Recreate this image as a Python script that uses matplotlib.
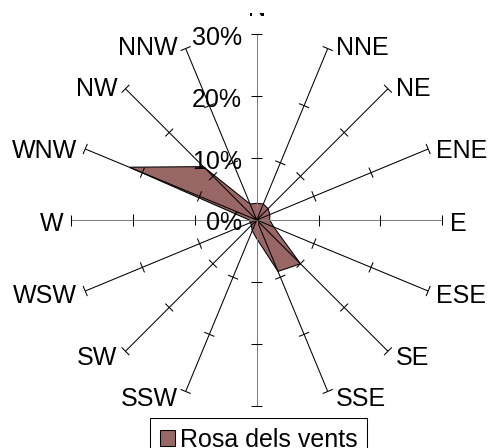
import numpy as np
import matplotlib
matplotlib.use("Agg")
import matplotlib.pyplot as plt
from matplotlib.patches import Patch
from matplotlib.transforms import Bbox, TransformedBbox

# Wind frequency (%) per compass direction, clockwise from north
directions = ["N", "NNE", "NE", "ENE", "E", "ESE", "SE", "SSE",
              "S", "SSW", "SW", "WSW", "W", "WNW", "NW", "NNW"]
freq = [2.7, 2.8, 2.6, 2.3, 2.1, 3.0, 10.0, 9.0,
        3.0, 1.9, 1.2, 1.1, 1.2, 22.3, 12.2, 2.8]
ring_values = [0, 10, 20, 30]
ring_labels = ["0%", "10%", "20%", "30%"]
series_name = "Rosa dels vents"

plt.rcParams["font.family"] = ["Liberation Sans", "DejaVu Sans"]

DPI = 100
W, H = 488, 448
fig = plt.figure(figsize=(W / DPI, H / DPI), dpi=DPI)
fig.patch.set_facecolor("white")

FILL = "#996666"
FS = 18
PT = 72.0 / DPI          # pixels -> points

cx, cy, R = 256.7, 220.0, 185.6
ax = fig.add_axes([(cx - R) / W, (H - cy - R) / H, 2 * R / W, 2 * R / H],
                  projection="polar")
ax.set_theta_zero_location("N")
ax.set_theta_direction(-1)
rmax = ring_values[-1]
ax.set_ylim(0, rmax)
ax.axis("off")

theta = np.linspace(0, 2 * np.pi, len(directions), endpoint=False)

# filled series
ax.fill(np.append(theta, theta[0]), list(freq) + [freq[0]],
        facecolor=FILL, edgecolor="black", linewidth=0.75, zorder=1,
        clip_on=False)

# spokes with crossing tick marks
half = 5.5 / (R / rmax)
for i, t in enumerate(theta):
    col = "#808080" if i % 4 == 0 else "black"
    ax.plot([t, t], [0, rmax], color=col, linewidth=0.75, zorder=2,
            clip_on=False, solid_capstyle="butt")
    for r in ring_values[1:]:
        da = np.arctan2(half, r)
        rr = np.hypot(r, half)
        ax.plot([t - da, t + da], [rr, rr], color="black", linewidth=0.75,
                zorder=2, clip_on=False, solid_capstyle="butt")

# value labels along the north axis
for r, lab in zip(ring_values, ring_labels):
    ax.annotate(lab, xy=(0, r), xytext=(-15 * PT, -10.4 * PT),
                textcoords="offset points", ha="right", va="baseline",
                fontsize=FS, zorder=4, annotation_clip=False)

# direction labels (the south label sits under the legend, so it is skipped)
clip_box = TransformedBbox(Bbox([[0, 0], [1, (H - 13.5) / H]]), fig.transFigure)
for i, (t, name) in enumerate(zip(theta, directions)):
    if i == 8:
        continue
    s, c = np.sin(t), np.cos(t)
    if i == 0:
        dx, dy, ha = 0.0, 18.4, "center"
    else:
        ha = "left" if s > 0 else "right"
        dx = 8.0 if s > 0 else -8.0
        dy = -(1.5 - 4.0 * c + 9.0)
    txt = ax.annotate(name, xy=(t, rmax), xytext=(dx * PT, dy * PT),
                      textcoords="offset points", ha=ha, va="baseline",
                      fontsize=FS, zorder=4, annotation_clip=False)
    if i == 0:
        txt.set_clip_on(True)
        txt.set_clip_box(clip_box)

handle = Patch(facecolor=FILL, edgecolor="black", linewidth=0.75)
leg = fig.legend(handles=[handle], labels=[series_name], loc="upper center",
                 bbox_to_anchor=(258.5 / W, 1 - 418 / H), frameon=True,
                 fancybox=False, shadow=False, edgecolor="black",
                 framealpha=1, fontsize=FS, borderaxespad=0,
                 handlelength=0.6, handleheight=0.6, handletextpad=0.2,
                 borderpad=0.4)
leg.get_frame().set_linewidth(0.75)

fig.savefig("out.png", dpi=DPI, facecolor="white")
